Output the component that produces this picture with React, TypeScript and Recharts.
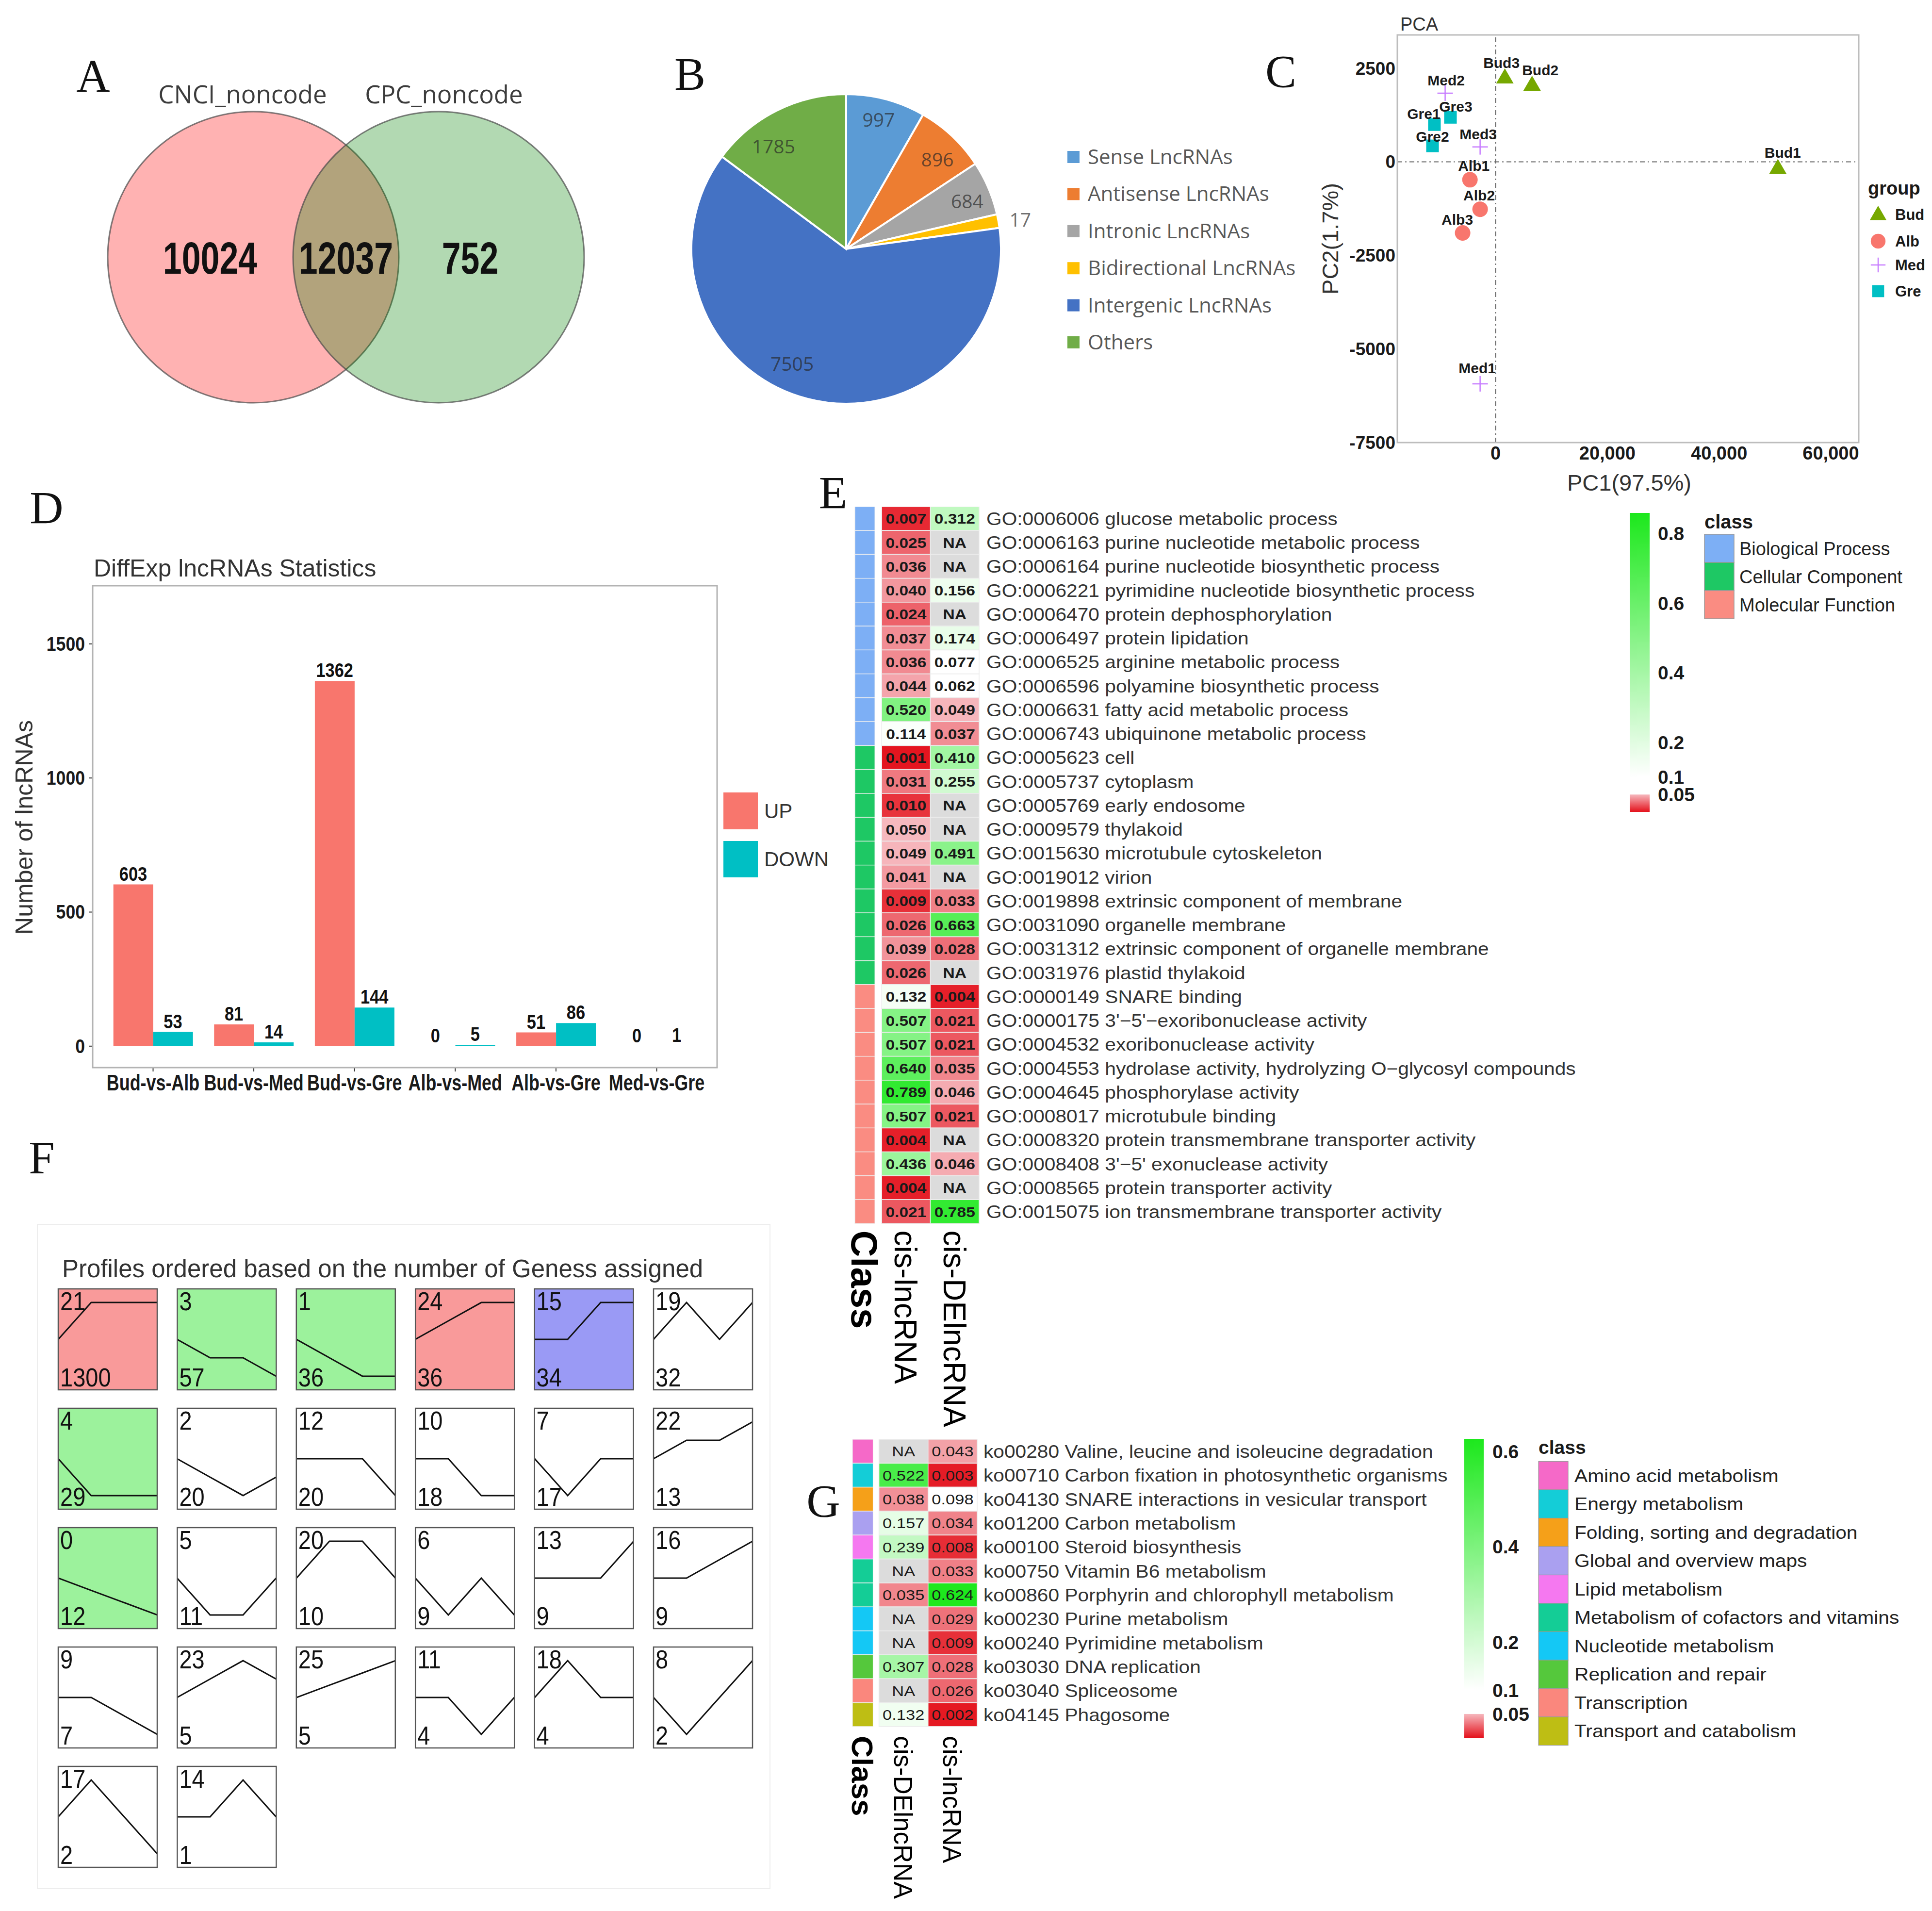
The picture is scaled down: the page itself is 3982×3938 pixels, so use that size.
import React from 'react';
import {
  ScatterChart, Scatter, XAxis, YAxis, PieChart, Pie, Cell, BarChart, Bar, ComposedChart,
  LineChart, Line, ReferenceLine,
} from 'recharts';

const PAGE_W = 3982;
const PAGE_H = 3938;
const SANS = '"Liberation Sans", Arial, Helvetica, sans-serif';
const SERIF = '"Liberation Serif", "Times New Roman", serif';
const OPEN = '"Open Sans", "Liberation Sans", sans-serif';

/* ---------------- A : Venn ---------------- */
const vennRegions = ['CNCI_noncode only', 'CNCI_noncode & CPC_noncode', 'CPC_noncode only'];
const vennSetNames = ['CNCI_noncode', '', 'CPC_noncode'];
const vennCounts = [10024, 12037, 752];

/* ---------------- B : Pie ---------------- */
const pieNames = ['Sense LncRNAs', 'Antisense LncRNAs', 'Intronic LncRNAs', 'Bidirectional LncRNAs', 'Intergenic LncRNAs', 'Others'];
const pieValues = [997, 896, 684, 171, 7505, 1785];
const pieColors = ['#5B9BD5', '#ED7D31', '#A5A5A5', '#FFC000', '#4472C4', '#70AD47'];

/* ---------------- C : PCA ---------------- */
const pcaSamples = ['Bud1', 'Bud2', 'Bud3', 'Alb1', 'Alb2', 'Alb3', 'Med1', 'Med2', 'Med3', 'Gre1', 'Gre2', 'Gre3'];
const pcaGroupOf = ['Bud', 'Bud', 'Bud', 'Alb', 'Alb', 'Alb', 'Med', 'Med', 'Med', 'Gre', 'Gre', 'Gre'];
const pcaPC1 = [50520, 6520, 1650, -4600, -2780, -5910, -2780, -9040, -2780, -10960, -11300, -8090];
const pcaPC2 = [-168, 2054, 2248, -478, -1266, -1900, -5930, 1835, 400, 995, 426, 1189];
const pcaGroups = ['Bud', 'Alb', 'Med', 'Gre'];
const pcaXTicks = [0, 20000, 40000, 60000];
const pcaYTicks = [-7500, -5000, -2500, 0, 2500];

/* ---------------- D : DE bars ---------------- */
const deComparisons = ['Bud-vs-Alb', 'Bud-vs-Med', 'Bud-vs-Gre', 'Alb-vs-Med', 'Alb-vs-Gre', 'Med-vs-Gre'];
const deUp = [603, 81, 1362, 0, 51, 0];
const deDown = [53, 14, 144, 5, 86, 1];
const deYTicks = [0, 500, 1000, 1500];

/* ---------------- E : GO heatmap ---------------- */
const goTerms = [
  'GO:0006006 glucose metabolic process',
  'GO:0006163 purine nucleotide metabolic process',
  'GO:0006164 purine nucleotide biosynthetic process',
  'GO:0006221 pyrimidine nucleotide biosynthetic process',
  'GO:0006470 protein dephosphorylation',
  'GO:0006497 protein lipidation',
  'GO:0006525 arginine metabolic process',
  'GO:0006596 polyamine biosynthetic process',
  'GO:0006631 fatty acid metabolic process',
  'GO:0006743 ubiquinone metabolic process',
  'GO:0005623 cell',
  'GO:0005737 cytoplasm',
  'GO:0005769 early endosome',
  'GO:0009579 thylakoid',
  'GO:0015630 microtubule cytoskeleton',
  'GO:0019012 virion',
  'GO:0019898 extrinsic component of membrane',
  'GO:0031090 organelle membrane',
  'GO:0031312 extrinsic component of organelle membrane',
  'GO:0031976 plastid thylakoid',
  'GO:0000149 SNARE binding',
  "GO:0000175 3'\u22125'\u2212exoribonuclease activity",
  'GO:0004532 exoribonuclease activity',
  'GO:0004553 hydrolase activity, hydrolyzing O\u2212glycosyl compounds',
  'GO:0004645 phosphorylase activity',
  'GO:0008017 microtubule binding',
  'GO:0008320 protein transmembrane transporter activity',
  "GO:0008408 3'\u22125' exonuclease activity",
  'GO:0008565 protein transporter activity',
  'GO:0015075 ion transmembrane transporter activity',
];
const goClassNames = ['Biological Process', 'Cellular Component', 'Molecular Function'];
const goClassColors = ['#7DAFF5', '#1EC864', '#FA8C82'];
const goClass = [
  'Biological Process', 'Biological Process', 'Biological Process', 'Biological Process', 'Biological Process',
  'Biological Process', 'Biological Process', 'Biological Process', 'Biological Process', 'Biological Process',
  'Cellular Component', 'Cellular Component', 'Cellular Component', 'Cellular Component', 'Cellular Component',
  'Cellular Component', 'Cellular Component', 'Cellular Component', 'Cellular Component', 'Cellular Component',
  'Molecular Function', 'Molecular Function', 'Molecular Function', 'Molecular Function', 'Molecular Function',
  'Molecular Function', 'Molecular Function', 'Molecular Function', 'Molecular Function', 'Molecular Function',
];
const goCisLnc = [0.007, 0.025, 0.036, 0.040, 0.024, 0.037, 0.036, 0.044, 0.520, 0.114,
  0.001, 0.031, 0.010, 0.050, 0.049, 0.041, 0.009, 0.026, 0.039, 0.026,
  0.132, 0.507, 0.507, 0.640, 0.789, 0.507, 0.004, 0.436, 0.004, 0.021];
const goCisDE = [0.312, null, null, 0.156, null, 0.174, 0.077, 0.062, 0.049, 0.037,
  0.410, 0.255, null, null, 0.491, null, 0.033, 0.663, 0.028, null,
  0.004, 0.021, 0.021, 0.035, 0.046, 0.021, null, 0.046, null, 0.785];
const goScaleTicks = [0.05, 0.1, 0.2, 0.4, 0.6, 0.8];

/* ---------------- F : STEM profiles ---------------- */
const profileIds = [21, 3, 1, 24, 15, 19, 4, 2, 12, 10, 7, 22, 0, 5, 20, 6, 13, 16, 9, 23, 25, 11, 18, 8, 17, 14];
const profileCounts = [1300, 57, 36, 36, 34, 32, 29, 20, 20, 18, 17, 13, 12, 11, 10, 9, 9, 9, 7, 5, 5, 4, 4, 2, 2, 1];
const profileShapes = [
  [0, 2, 2, 2], [0, -1, -1, -2], [0, -1, -2, -2], [0, 1, 2, 2], [0, 0, 2, 2], [0, 2, 0, 2],
  [0, -2, -2, -2], [0, -1, -2, -1], [0, 0, 0, -2], [0, 0, -2, -2], [0, -2, 0, 0], [0, 1, 1, 2],
  [0, -0.67, -1.33, -2], [0, -2, -2, 0], [0, 2, 2, 0], [0, -2, 0, -2], [0, 0, 0, 2], [0, 0, 1, 2],
  [0, 0, -1, -2], [0, 1, 2, 1], [0, 0.67, 1.33, 2], [0, 0, -2, 0], [0, 2, 0, 0], [0, -2, 0, 2],
  [0, 2, 0, -2], [0, 0, 2, 0],
];
const profileSignif = ['up', 'down', 'down', 'up', 'mid', '', 'down', '', '', '', '', '', 'down', '', '', '', '', '', '', '', '', '', '', '', '', ''];

/* ---------------- G : KEGG heatmap ---------------- */
const keggTerms = [
  'ko00280 Valine, leucine and isoleucine degradation',
  'ko00710 Carbon fixation in photosynthetic organisms',
  'ko04130 SNARE interactions in vesicular transport',
  'ko01200 Carbon metabolism',
  'ko00100 Steroid biosynthesis',
  'ko00750 Vitamin B6 metabolism',
  'ko00860 Porphyrin and chlorophyll metabolism',
  'ko00230 Purine metabolism',
  'ko00240 Pyrimidine metabolism',
  'ko03030 DNA replication',
  'ko03040 Spliceosome',
  'ko04145 Phagosome',
];
const keggClassNames = ['Amino acid metabolism', 'Energy metabolism', 'Folding, sorting and degradation', 'Global and overview maps',
  'Lipid metabolism', 'Metabolism of cofactors and vitamins', 'Nucleotide metabolism', 'Replication and repair', 'Transcription',
  'Transport and catabolism'];
const keggClassColors = ['#F569C8', '#14CDD7', '#F5A019', '#AAA0F0', '#F578F0', '#14CD96', '#14C8F5', '#55C83C', '#FA877D', '#BEBE14'];
const keggClass = ['Amino acid metabolism', 'Energy metabolism', 'Folding, sorting and degradation', 'Global and overview maps',
  'Lipid metabolism', 'Metabolism of cofactors and vitamins', 'Metabolism of cofactors and vitamins', 'Nucleotide metabolism',
  'Nucleotide metabolism', 'Replication and repair', 'Transcription', 'Transport and catabolism'];
const keggCisDE = [null, 0.522, 0.038, 0.157, 0.239, null, 0.035, null, null, 0.307, null, 0.132];
const keggCisLnc = [0.043, 0.003, 0.098, 0.034, 0.008, 0.033, 0.624, 0.029, 0.009, 0.028, 0.026, 0.002];
const keggScaleTicks = [0.05, 0.1, 0.2, 0.4, 0.6];

/* ---------------- colour scale ---------------- */
const RED = [228, 18, 28];
const PINK = [246, 184, 190];
const WHITE = [255, 255, 255];
const GREEN = [28, 232, 28];
const rgb = (c: number[]) => `rgb(${c.map((v) => Math.round(v)).join(',')})`;
const mix = (a: number[], b: number[], t: number) => rgb(a.map((v, i) => v + (b[i] - v) * t));
const pColor = (p: number | null, top: number) => {
  if (p === null || p === undefined) return '#DCDCDC';
  if (p <= 0.05) return mix(RED, PINK, p / 0.05);
  if (p <= 0.1) return '#FFFFFF';
  return mix(WHITE, GREEN, Math.min(1, (p - 0.1) / (top - 0.1)));
};

/* ================= A ================= */
const VENN_R = 300;
const vennFill = ['#ff0000', null, '#008000'];
const vennCountDx = [-89, 0, 65];
const vennTitleDx = [-22, 0, 11];

function VennPanel() {
  const data = vennRegions.map((r, i) => ({ region: r, idx: i, count: vennCounts[i], y: 0 }));
  const ellipse = (p: any) => {
    const i = p.payload.idx;
    if (!vennFill[i]) return <g />;
    return <ellipse cx={p.cx} cy={p.cy} rx={VENN_R} ry={VENN_R} fill={vennFill[i] as string} fillOpacity={0.3}
      stroke="#4a4a4a" strokeOpacity={0.7} strokeWidth={3} />;
  };
  const count = (p: any) => {
    const i = p.payload.idx;
    return (
      <text transform={`translate(${p.cx + vennCountDx[i]},${p.cy + 34}) scale(0.76,1)`} textAnchor="middle"
        fontSize={92} fontWeight="bold" fill="#111" fontFamily={SANS}>{p.payload.count}</text>
    );
  };
  const titleTick = (p: any) => {
    const i = Number(p.payload.value);
    const label = vennSetNames[i];
    if (!label) return <g />;
    return <text x={p.x + vennTitleDx[i]} y={213} textAnchor="middle" fontSize={51} fill="#3c3c3c" fontFamily={OPEN}>{label}</text>;
  };
  return (
    <div style={{ position: 'absolute', left: 0, top: 0 }}>
      <ScatterChart width={1400} height={900} margin={{ top: 160, right: 400.5, bottom: 70, left: 426.5 }}>
        <XAxis type="number" dataKey="idx" orientation="top" domain={[-0.5, 2.5]} ticks={[0, 1, 2]} interval={0}
          height={70} tick={titleTick} tickLine={false} axisLine={false} />
        <YAxis type="number" dataKey="y" domain={[-1, 1]} hide />
        <Scatter data={data} shape={ellipse} isAnimationActive={false} />
        <Scatter data={data} shape={count} isAnimationActive={false} />
      </ScatterChart>
    </div>
  );
}

/* ================= B ================= */
// label placement (radius factor, clockwise angle nudge in degrees) mimicking the spreadsheet "best fit"
const pieLabelPlace = [[0.86, -0.8], [0.825, 2.4], [0.84, 1.7], [1.175, 1.1], [0.82, 10.8], [0.81, -8.7]];
function PiePanel() {
  const data = pieNames.map((n, i) => ({ name: n, value: pieValues[i] }));
  const RAD = Math.PI / 180;
  const label = (p: any) => {
    const [k, da] = pieLabelPlace[p.index];
    const a = p.midAngle - da;
    const x = p.cx + p.outerRadius * k * Math.cos(-a * RAD);
    const y = p.cy + p.outerRadius * k * Math.sin(-a * RAD);
    return (
      <text x={x} y={y + 14} textAnchor="middle" fontSize={39} fill="#262626" fillOpacity={0.68} fontFamily={OPEN}>
        {p.value}
      </text>
    );
  };
  return (
    <div style={{ position: 'absolute', left: 1390, top: 100, width: 735, height: 800, overflow: 'hidden' }}>
      <PieChart width={735} height={800} margin={{ top: 0, right: 0, bottom: 0, left: 0 }}>
        <Pie data={data} dataKey="value" nameKey="name" cx={354} cy={413} outerRadius={319} innerRadius={0}
          startAngle={90} endAngle={-270} stroke="#ffffff" strokeWidth={4} isAnimationActive={false}
          label={label} labelLine={false}>
          {data.map((d, i) => <Cell key={d.name} fill={pieColors[i]} />)}
        </Pie>
      </PieChart>
    </div>
  );
}

/* ================= C ================= */
const pcaColor: Record<string, string> = { Bud: '#76A800', Alb: '#F8766D', Med: '#C77CFF', Gre: '#00BFC4' };
// repelled label offsets (label centre relative to the point, px)
const pcaLabelNudge: Record<string, number[]> = {
  Bud1: [10, -32], Bud2: [17, -31], Bud3: [-7, -31], Alb1: [8, -29], Alb2: [-2, -29], Alb3: [-11, -28],
  Med1: [-6, -33], Med2: [2, -27], Med3: [-4, -27], Gre1: [-22, -23], Gre2: [0, -20], Gre3: [11, -23],
};
function pcaMarker(group: string, cx: number, cy: number, s = 1) {
  const c = pcaColor[group];
  if (group === 'Bud') return <polygon points={`${cx},${cy - 19 * s} ${cx - 18 * s},${cy + 12 * s} ${cx + 18 * s},${cy + 12 * s}`} fill={c} />;
  if (group === 'Alb') return <circle cx={cx} cy={cy} r={16 * s} fill={c} />;
  if (group === 'Med') return (
    <g stroke={c} strokeWidth={2.5}>
      <line x1={cx - 16 * s} y1={cy} x2={cx + 16 * s} y2={cy} />
      <line x1={cx} y1={cy - 16 * s} x2={cx} y2={cy + 16 * s} />
    </g>
  );
  return <rect x={cx - 13 * s} y={cy - 13 * s} width={26 * s} height={26 * s} fill={c} />;
}

function PcaPanel() {
  const data = pcaSamples.map((s, i) => ({ name: s, group: pcaGroupOf[i], x: pcaPC1[i], y: pcaPC2[i] }));
  const xTick = (p: any) => (
    <text x={p.x} y={p.y + 35} textAnchor="middle" fontSize={38} fontWeight="bold" fill="#1a1a1a" fontFamily={SANS}>
      {Number(p.payload.value).toLocaleString('en-US')}
    </text>
  );
  const yTick = (p: any) => (
    <text x={p.x - 4} y={p.y + 13} textAnchor="end" fontSize={37} fontWeight="bold" fill="#1a1a1a" fontFamily={SANS}>
      {p.payload.value}
    </text>
  );
  return (
    <div style={{ position: 'absolute', left: 2600, top: 0 }}>
      <ScatterChart width={1382} height={1050} margin={{ top: 72, right: 151, bottom: 88, left: 180 }}>
        <XAxis type="number" dataKey="x" domain={[-17600, 65000]} ticks={pcaXTicks} interval={0} height={50}
          tick={xTick} tickLine={false} axisLine={false} tickSize={0} tickMargin={0} />
        <YAxis type="number" dataKey="y" domain={[-7500, 3390]} ticks={pcaYTicks} interval={0} width={100}
          tick={yTick} tickLine={false} axisLine={false} tickSize={0} tickMargin={0} />
        <ReferenceLine x={0} stroke="#666" strokeWidth={2} strokeDasharray="10 6 3 6" />
        <ReferenceLine y={0} stroke="#666" strokeWidth={2} strokeDasharray="10 6 3 6" />
        {pcaGroups.map((g) => (
          <Scatter key={g} name={g} data={data.filter((d) => d.group === g)} isAnimationActive={false}
            shape={(p: any) => {
              const n = pcaLabelNudge[p.payload.name] || [0, -30];
              return (
                <g>
                  {pcaMarker(g, p.cx, p.cy)}
                  <text x={p.cx + n[0]} y={p.cy + n[1] + 11} textAnchor="middle" fontSize={30} fontWeight="bold" fill="#1a1a1a" fontFamily={SANS}>
                    {p.payload.name}
                  </text>
                </g>
              );
            }} />
        ))}
      </ScatterChart>
    </div>
  );
}

/* ================= D ================= */
const DE_COLORS = { up: '#F8766D', down: '#00BFC4' };
const DE_BAR = 82;
function DePanel() {
  const data = deComparisons.map((c, i) => ({ name: c, up: deUp[i], down: deDown[i] }));
  const xTick = (p: any) => (
    <text transform={`translate(${p.x},${p.y + 37}) scale(0.78,1)`} textAnchor="middle" fontSize={46} fontWeight="bold"
      fill="#1a1a1a" fontFamily={SANS}>{p.payload.value}</text>
  );
  const yTick = (p: any) => (
    <text transform={`translate(${p.x},${p.y + 14}) scale(0.89,1)`} textAnchor="end" fontSize={40} fontWeight="bold"
      fill="#1a1a1a" fontFamily={SANS}>{p.payload.value}</text>
  );
  const valueLabel = (key: string, dx: number) => (p: any) => (
    <text transform={`translate(${p.cx + dx},${p.cy - 8}) scale(0.86,1)`} textAnchor="middle" fontSize={40}
      fontWeight="bold" fill="#111" fontFamily={SANS}>{p.payload[key]}</text>
  );
  return (
    <div style={{ position: 'absolute', left: 0, top: 1000 }}>
      <ComposedChart width={1560} height={1300} data={data} margin={{ top: 207, right: 82, bottom: 30, left: 91 }} barGap={0}>
        <XAxis dataKey="name" padding={{ left: 20.7, right: 20.7 }} height={70} interval={0} tick={xTick}
          tickSize={8} tickMargin={2} tickLine={{ stroke: '#333', strokeWidth: 2 }} axisLine={false} />
        <YAxis width={100} domain={[-80, 1717]} ticks={deYTicks} interval={0} tick={yTick} tickSize={8} tickMargin={8}
          tickLine={{ stroke: '#333', strokeWidth: 2 }} axisLine={false} />
        <Bar dataKey="up" name="UP" fill={DE_COLORS.up} barSize={DE_BAR} isAnimationActive={false} />
        <Bar dataKey="down" name="DOWN" fill={DE_COLORS.down} barSize={DE_BAR} isAnimationActive={false} />
        <Scatter dataKey="up" shape={valueLabel('up', -DE_BAR / 2)} isAnimationActive={false} legendType="none" />
        <Scatter dataKey="down" shape={valueLabel('down', DE_BAR / 2)} isAnimationActive={false} legendType="none" />
      </ComposedChart>
    </div>
  );
}

/* ================= E / G heatmaps ================= */
const HM_PAD = 30;
function HeatmapPanel({ cfg }: any) {
  const data = cfg.terms.map((t: string, i: number) => ({ term: t, cls: cfg.classes[i], a: cfg.colA[i], b: cfg.colB[i] }));
  const plotH = data.length * cfg.rowH;
  const units = cfg.wClass + cfg.wGap + 2;
  const colCenters = [cfg.wClass / 2, cfg.wClass + cfg.wGap + 0.5, cfg.wClass + cfg.wGap + 1.5];
  const kClass = (d: any) => (d ? cfg.wClass : cfg.wClass);
  const kGap = (d: any) => (d ? cfg.wGap : cfg.wGap);
  const kA = (d: any) => (d ? 1 : 1);
  const kB = (d: any) => (d ? 1.0 : 1.0);
  const classShape = (p: any) => (
    <rect x={p.x} y={p.y} width={p.width} height={p.height} fill={cfg.classColor(p.payload.cls)} stroke="#efefef" strokeWidth={1.2} />
  );
  const valueShape = (key: string) => (p: any) => {
    const v = p.payload[key];
    const txt = v === null || v === undefined ? 'NA' : Number(v).toFixed(3);
    return (
      <g>
        <rect x={p.x} y={p.y} width={p.width} height={p.height} fill={pColor(v, cfg.scaleTop)} stroke="#ececec" strokeWidth={1.5} />
        <text transform={`translate(${p.x + p.width / 2},${p.y + p.height / 2 + cfg.valueFont * 0.36}) scale(${cfg.valueScale},1)`}
          textAnchor="middle" fontSize={cfg.valueFont} fontWeight={cfg.valueWeight} fill="#1a1a1a" fontFamily={SANS}>{txt}</text>
      </g>
    );
  };
  const rowTick = (p: any) => (
    <text transform={`translate(${p.x + cfg.labelDx},${p.y + cfg.labelFont * 0.36}) scale(${cfg.labelScale},1)`}
      fontSize={cfg.labelFont} fill="#333" fontFamily={SANS}>{p.payload.value}</text>
  );
  const colTick = (p: any) => {
    const i = p.index;
    const bold = i === 0;
    const fs = bold ? cfg.colBoldFont : cfg.colFont;
    return (
      <text transform={`translate(${p.x - 0.36 * fs},${plotH + cfg.colGap}) rotate(90)`} fontSize={fs}
        fontWeight={bold ? 'bold' : 'normal'} fill="#000" fontFamily={SANS}>{cfg.colNames[i]}</text>
    );
  };
  return (
    <div style={{ position: 'absolute', left: cfg.left - HM_PAD, top: cfg.top }}>
      <BarChart layout="vertical" width={cfg.width + HM_PAD} height={plotH + cfg.axisH} data={data}
        margin={{ top: 0, right: 0, bottom: 0, left: HM_PAD }} barCategoryGap={0} barGap={0}>
        <XAxis type="number" domain={[0, units]} ticks={colCenters} interval={0} height={cfg.axisH} tick={colTick}
          tickLine={false} axisLine={false} tickSize={0} tickMargin={0} />
        <YAxis type="category" dataKey="term" orientation="right" width={cfg.width - cfg.plotW} interval={0} tick={rowTick}
          tickLine={false} axisLine={false} tickSize={0} tickMargin={0} />
        <Bar dataKey={kClass} stackId="h" shape={classShape} isAnimationActive={false} />
        <Bar dataKey={kGap} stackId="h" shape={() => <g />} isAnimationActive={false} />
        <Bar dataKey={kA} stackId="h" shape={valueShape('a')} isAnimationActive={false} />
        <Bar dataKey={kB} stackId="h" shape={valueShape('b')} isAnimationActive={false} />
      </BarChart>
    </div>
  );
}

const E_CFG = {
  left: 1762, top: 1044, width: 1600, plotW: 256, rowH: 49.25, axisH: 460,
  wClass: 0.41, wGap: 0.14,
  terms: goTerms, classes: goClass, colA: goCisLnc, colB: goCisDE,
  classColor: (c: string) => goClassColors[goClassNames.indexOf(c)],
  colNames: ['Class', 'cis-lncRNA', 'cis-DElncRNA'],
  scaleTop: 0.859, labelDx: 15, labelFont: 37, labelScale: 1.1,
  valueFont: 30, valueScale: 1.12, valueWeight: 'bold',
  colFont: 64, colBoldFont: 76, colGap: 14,
};
const G_CFG = {
  left: 1757, top: 2966, width: 1300, plotW: 257, rowH: 49.35, axisH: 400,
  wClass: 0.42, wGap: 0.12,
  terms: keggTerms, classes: keggClass, colA: keggCisDE, colB: keggCisLnc,
  classColor: (c: string) => keggClassColors[keggClassNames.indexOf(c)],
  colNames: ['Class', 'cis-DElncRNA', 'cis-lncRNA'],
  scaleTop: 0.626, labelDx: 13, labelFont: 37, labelScale: 1.1,
  valueFont: 30, valueScale: 1.15, valueWeight: 'normal',
  colFont: 53, colBoldFont: 62, colGap: 19,
};

function ColorBar({ cfg }: any) {
  const data = [{ k: 'p' }];
  const kRed = (d: any) => (d ? 0.05 : 0.05);
  const kGreen = (d: any) => (d ? cfg.top - 0.05 : cfg.top - 0.05);
  const whiteOffset = (cfg.top - 0.1) / (cfg.top - 0.05);
  const redShape = (p: any) => (
    <g>
      <defs>
        <linearGradient id={`${cfg.id}-r`} x1="0" y1="0" x2="0" y2="1">
          <stop offset="0" stopColor={rgb(PINK)} />
          <stop offset="1" stopColor={rgb(RED)} />
        </linearGradient>
      </defs>
      <rect x={p.x} y={p.y} width={p.width} height={p.height} fill={`url(#${cfg.id}-r)`} />
    </g>
  );
  const greenShape = (p: any) => (
    <g>
      <defs>
        <linearGradient id={`${cfg.id}-g`} x1="0" y1="0" x2="0" y2="1">
          <stop offset="0" stopColor={rgb(GREEN)} />
          <stop offset={whiteOffset} stopColor="#ffffff" />
          <stop offset="1" stopColor="#ffffff" />
        </linearGradient>
      </defs>
      <rect x={p.x} y={p.y} width={p.width} height={p.height} fill={`url(#${cfg.id}-g)`} />
    </g>
  );
  const tick = (p: any) => (
    <text x={p.x + cfg.labelDx} y={p.y + 14} fontSize={39} fontWeight="bold" fill="#1a1a1a" fontFamily={SANS}>{p.payload.value}</text>
  );
  return (
    <div style={{ position: 'absolute', left: cfg.left, top: cfg.topPx }}>
      <BarChart width={cfg.barW + 120} height={cfg.height} data={data} margin={{ top: 0, right: 0, bottom: 0, left: 0 }} barCategoryGap={0}>
        <XAxis type="category" dataKey="k" hide />
        <YAxis type="number" orientation="right" domain={[0, cfg.top]} ticks={cfg.ticks} interval={0} width={120} tick={tick}
          tickLine={false} axisLine={false} tickSize={0} tickMargin={0} />
        <Bar dataKey={kRed} stackId="c" shape={redShape} isAnimationActive={false} />
        <Bar dataKey={kGreen} stackId="c" shape={greenShape} isAnimationActive={false} />
      </BarChart>
    </div>
  );
}
const E_BAR = { id: 'ebar', left: 3359, topPx: 1057, barW: 41, height: 616, top: 0.859, ticks: goScaleTicks, labelDx: 17 };
const G_BAR = { id: 'gbar', left: 3018, topPx: 2965, barW: 40, height: 616, top: 0.626, ticks: keggScaleTicks, labelDx: 18 };

/* ================= F ================= */
const F_BOX = { left: 120, top: 2656, w: 204, h: 208, dx: 245.4, dy: 246 };
const sigFill: Record<string, string> = { up: '#F99A9A', down: '#9CF29C', mid: '#9A9AF5', '': '#ffffff' };
const boxPos = (k: number) => ({ x: F_BOX.left + (k % 6) * F_BOX.dx, y: F_BOX.top + Math.floor(k / 6) * F_BOX.dy });

function ProfilesPanel() {
  return (
    <>
      {profileIds.map((id, k) => {
        const { x, y } = boxPos(k);
        const data = profileShapes[k].map((v, t) => ({ t, v }));
        return (
          <div key={id} style={{ position: 'absolute', left: x, top: y, width: F_BOX.w, height: F_BOX.h, background: sigFill[profileSignif[k]] }}>
            <LineChart width={F_BOX.w} height={F_BOX.h} data={data} margin={{ top: 0, right: 0, bottom: 0, left: 0 }}>
              <XAxis type="number" dataKey="t" domain={[0, 3]} hide />
              <YAxis type="number" domain={[-2.74, 2.74]} hide />
              <Line dataKey="v" stroke="#111" strokeWidth={3} dot={false} isAnimationActive={false} />
            </LineChart>
          </div>
        );
      })}
    </>
  );
}

/* ================= overlay (titles, legends, frames) ================= */
function Overlay() {
  const letters: [string, number, number][] = [['A', 192, 189], ['B', 1422, 185], ['C', 2640, 180], ['D', 96, 1079], ['E', 1717, 1048], ['F', 86, 2418], ['G', 1697, 3126]];
  return (
    <svg width={PAGE_W} height={PAGE_H} style={{ position: 'absolute', left: 0, top: 0, pointerEvents: 'none' }}>
      {letters.map(([t, x, y]) => (
        <text key={t} x={x} y={y} textAnchor="middle" fontSize={96} fontFamily={SERIF} fill="#111">{t}</text>
      ))}

      {/* B legend */}
      {pieNames.map((n, i) => (
        <g key={n}>
          <rect x={2200} y={323 + i * 76.4 - 12} width={25} height={25} fill={pieColors[i]} />
          <text x={2242} y={323 + i * 76.4 + 15} fontSize={42} fill="#595959" fontFamily={OPEN}>{n}</text>
        </g>
      ))}

      {/* C frame, titles, legend */}
      <rect x={2880} y={72} width={951} height={840} fill="none" stroke="#bdbdbd" strokeWidth={3} />
      <text x={2886} y={63} fontSize={38} fill="#333" fontFamily={SANS}>PCA</text>
      <text x={3358} y={1011} textAnchor="middle" fontSize={47} fill="#333" fontFamily={SANS}>PC1(97.5%)</text>
      <text transform="translate(2758,492) rotate(-90)" textAnchor="middle" fontSize={47} fill="#333" fontFamily={SANS}>PC2(1.7%)</text>
      <text x={3850} y={401} fontSize={38} fontWeight="bold" fill="#1a1a1a" fontFamily={SANS}>group</text>
      {pcaGroups.map((g, i) => {
        const cy = [442, 497, 546, 600][i];
        return (
          <g key={g}>
            {pcaMarker(g, 3871, cy, 0.95)}
            <text x={3906} y={cy + 11} fontSize={31} fontWeight="bold" fill="#1a1a1a" fontFamily={SANS}>{g}</text>
          </g>
        );
      })}

      {/* D frame, titles, legend */}
      <rect x={191} y={1207} width={1287} height={993} fill="none" stroke="#b3b3b3" strokeWidth={3} />
      <text x={193} y={1188} fontSize={50} fill="#333" fontFamily={SANS}>DiffExp lncRNAs Statistics</text>
      <text transform="translate(67,1705) rotate(-90)" textAnchor="middle" fontSize={50} fill="#333" fontFamily={SANS}>Number of lncRNAs</text>
      <rect x={1491} y={1633} width={71} height={76} fill={DE_COLORS.up} />
      <rect x={1491} y={1733} width={71} height={75} fill={DE_COLORS.down} />
      <text x={1575} y={1686} fontSize={42} fill="#333" fontFamily={SANS}>UP</text>
      <text x={1575} y={1785} fontSize={42} fill="#333" fontFamily={SANS}>DOWN</text>

      {/* E class legend */}
      <text x={3513} y={1089} fontSize={40} fontWeight="bold" fill="#1a1a1a" fontFamily={SANS}>class</text>
      {goClassNames.map((n, i) => (
        <g key={n}>
          <rect x={3513} y={1101 + i * 58} width={61} height={58} fill={goClassColors[i]} stroke="#9a9a9a" strokeWidth={1.5} />
          <text x={3585} y={1130 + i * 58 + 13.5} fontSize={38} fill="#222" fontFamily={SANS}>{n}</text>
        </g>
      ))}

      {/* G class legend */}
      <text x={3171} y={2996} fontSize={39} fontWeight="bold" fill="#1a1a1a" fontFamily={SANS}>class</text>
      {keggClassNames.map((n, i) => (
        <g key={n}>
          <rect x={3171} y={3011.5 + i * 58.5} width={61} height={58.5} fill={keggClassColors[i]} stroke="#9a9a9a" strokeWidth={1.2} />
          <text transform={`translate(3245,${3040.75 + i * 58.5 + 13}) scale(1.1,1)`} fontSize={37} fill="#222" fontFamily={SANS}>{n}</text>
        </g>
      ))}

      {/* F frame, title, boxes */}
      <rect x={77} y={2523} width={1510} height={1369} fill="none" stroke="#ededed" strokeWidth={2} />
      <text x={128} y={2632} fontSize={51} fill="#333" fontFamily={SANS}>Profiles ordered based on the number of Geness assigned</text>
      {profileIds.map((id, k) => {
        const { x, y } = boxPos(k);
        return (
          <g key={id}>
            <rect x={x} y={y} width={F_BOX.w} height={F_BOX.h} fill="none" stroke="#555" strokeWidth={2.5} />
            <text transform={`translate(${x + 4},${y + 44}) scale(0.87,1)`} fontSize={54} fill="#111" fontFamily={SANS}>{id}</text>
            <text transform={`translate(${x + 4},${y + F_BOX.h - 7}) scale(0.87,1)`} fontSize={54} fill="#111" fontFamily={SANS}>{profileCounts[k]}</text>
          </g>
        );
      })}
    </svg>
  );
}

export default function App() {
  return (
    <div style={{ position: 'absolute', left: 0, top: 0, width: PAGE_W, height: PAGE_H, background: '#ffffff', overflow: 'hidden', fontFamily: SANS }}>
      <VennPanel />
      <PiePanel />
      <PcaPanel />
      <DePanel />
      <HeatmapPanel cfg={E_CFG} />
      <ColorBar cfg={E_BAR} />
      <HeatmapPanel cfg={G_CFG} />
      <ColorBar cfg={G_BAR} />
      <ProfilesPanel />
      <Overlay />
    </div>
  );
}
